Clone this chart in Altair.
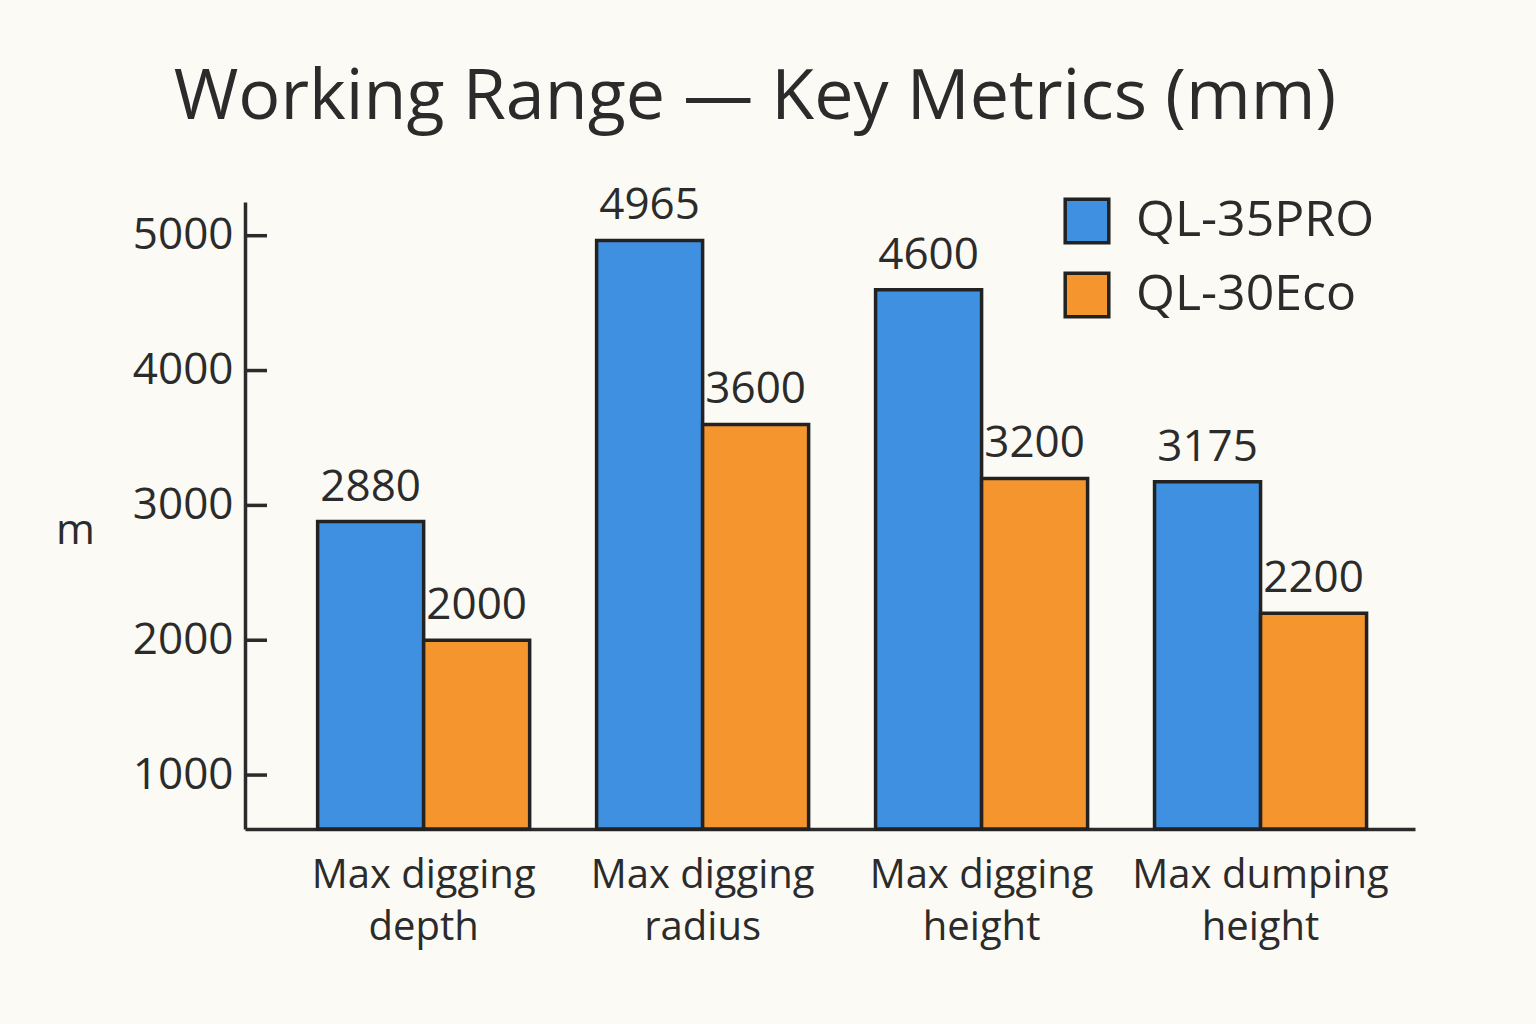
import altair as alt
import pandas as pd

# Working range metrics for the two machines (mm)
categories = ["Max digging\ndepth", "Max digging\nradius", "Max digging\nheight", "Max dumping\nheight"]
models = ["QL-35PRO", "QL-30Eco"]
ql35pro = [2880, 4965, 4600, 3175]
ql30eco = [2000, 3600, 3200, 2200]
y_ticks = [1000, 2000, 3000, 4000, 5000]

colors = ["#3f90e0", "#f5952e"]
ink = "#2b2b2b"
font = "Open Sans"

rows = []
for i, cat in enumerate(categories):
    rows.append({"metric": cat, "model": models[0], "value": ql35pro[i]})
    rows.append({"metric": cat, "model": models[1], "value": ql30eco[i]})
df = pd.DataFrame(rows)
ticks_df = pd.DataFrame({"tick": y_ticks})

y_scale = alt.Scale(domain=[600, 5250], nice=False, zero=False, clamp=True)
x_scale = alt.Scale(paddingInner=0.24, paddingOuter=0.217, align=0.6)

x_enc = alt.X(
    "metric:N",
    sort=categories,
    scale=x_scale,
    axis=alt.Axis(
        title=None,
        ticks=False,
        labelAngle=0,
        labelExpr="split(datum.label, '\\n')",
        labelFontSize=40,
        labelFont=font,
        labelColor=ink,
        labelLimit=0,
        labelPadding=26,
        labelLineHeight=52,
        labelBaseline="top",
        domainColor=ink,
        domainWidth=3.5,
    ),
)

bars = alt.Chart(df).mark_bar(stroke="#222222", strokeWidth=3.5, cornerRadius=0).encode(
    x=x_enc,
    xOffset=alt.XOffset("model:N", sort=models),
    y=alt.Y(
        "value:Q",
        scale=y_scale,
        axis=alt.Axis(
            title="m",
            titleAngle=0,
            titleX=-170,
            titleY=328,
            titleAlign="center",
            titleBaseline="middle",
            titleFontSize=42,
            titleFont=font,
            titleFontWeight="normal",
            titleColor=ink,
            values=y_ticks,
            format="d",
            ticks=False,
            grid=False,
            labelFontSize=44,
            labelFont=font,
            labelColor=ink,
            labelPadding=12,
            domainColor=ink,
            domainWidth=3.5,
        ),
    ),
    color=alt.Color(
        "model:N",
        sort=models,
        scale=alt.Scale(domain=models, range=colors),
        legend=alt.Legend(
            title=None,
            orient="none",
            legendX=817,
            legendY=-6,
            symbolType="square",
            symbolSize=1900,
            symbolStrokeColor="#222222",
            symbolStrokeWidth=3.5,
            symbolOpacity=1,
            labelFontSize=50,
            labelFont=font,
            labelColor=ink,
            labelLimit=0,
            labelOffset=24,
            rowPadding=16,
        ),
    ),
)

labels = alt.Chart(df).mark_text(
    baseline="bottom", dy=-12, fontSize=44, font=font, color=ink
).encode(
    x=alt.X("metric:N", sort=categories, scale=x_scale),
    xOffset=alt.XOffset("model:N", sort=models),
    y=alt.Y("value:Q", scale=y_scale),
    text=alt.Text("value:Q", format="d"),
)

# inward-pointing tick marks on the value axis
tick_marks = alt.Chart(ticks_df).mark_rule(color=ink, strokeWidth=3.5).encode(
    y=alt.Y("tick:Q", scale=y_scale),
    x=alt.value(0),
    x2=alt.value(22),
)

chart = (
    alt.layer(bars, labels, tick_marks)
    .properties(
        width=1170,
        height=627,
        autosize=alt.AutoSizeParams(type="none"),
        padding={"left": 245, "top": 202, "right": 121, "bottom": 195},
        background="#fbfaf4",
        title=alt.TitleParams(
            "Working Range — Key Metrics (mm)",
            fontSize=70,
            font=font,
            fontWeight="normal",
            color=ink,
            anchor="middle",
            frame="group",
            dx=-75,
            offset=50,
        ),
    )
    .configure_view(stroke=None)
)

chart.save("out.html", embed_options={"renderer": "svg", "actions": False})
